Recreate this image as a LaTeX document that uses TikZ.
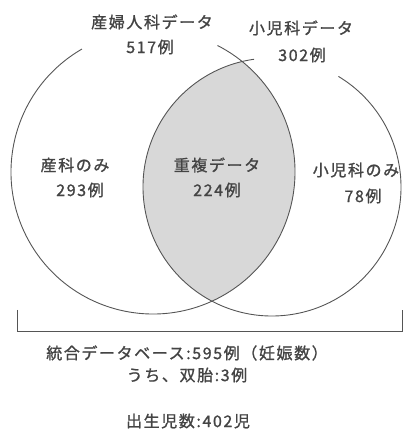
\documentclass[tikz,border=0pt]{standalone}
\usepackage{fontspec}
\setmainfont{Noto Sans CJK JP}[LetterSpace=10,FakeBold=1.2]
\definecolor{txt}{HTML}{444444}
\definecolor{ln}{HTML}{555555}
\definecolor{lens}{HTML}{D8D8D8}
\begin{document}
\begin{tikzpicture}[x=1pt,y=1pt,
  lbl/.style={inner sep=0pt, text=txt, font=\fontsize{16}{18}\selectfont},
  vline/.style={draw=ln, line width=0.9pt}]
\useasboundingbox (0,0) rectangle (404,429);
\coordinate (c1) at (153,257);
\coordinate (c2) at (272,242);
% lens
\begin{scope}
  \clip (c1) circle (142);
  \fill[lens] (c2) circle (129);
\end{scope}
% circles with gaps for labels
\draw[vline] (c1) ++(120:142) arc[start angle=120, end angle=423, radius=142];
\draw[vline] (c2) ++(98:129) arc[start angle=98, end angle=419, radius=129];
% bracket
\coordinate (bl) at (17,119);
\coordinate (br) at (402,119);
\draw[vline] (bl) -- (17,98) -- (402,98) -- (br);
% labels
\node[lbl] (obt) at (152,407) {産婦人科データ};
\node[lbl] (obn) at (150,382) {517例};
\node[lbl] (pdt) at (301,401) {小児科データ};
\node[lbl] (pdn) at (302,374) {302例};
\node[lbl] (oo) at (75,264) {産科のみ};
\node[lbl] (oon) at (80,239) {293例};
\node[lbl] (dup) at (217,264) {重複データ};
\node[lbl] (dupn) at (217,239) {224例};
\node[lbl] (po) at (356,259) {小児科のみ};
\node[lbl] (pon) at (363,233) {78例};
\node[lbl] (db) at (187,76) {統合データベース:595例（妊娠数）};
\node[lbl] (tw) at (187,54) {うち、双胎:3例};
\node[lbl] (bb) at (188,8) {出生児数:402児};
\end{tikzpicture}
\end{document}
